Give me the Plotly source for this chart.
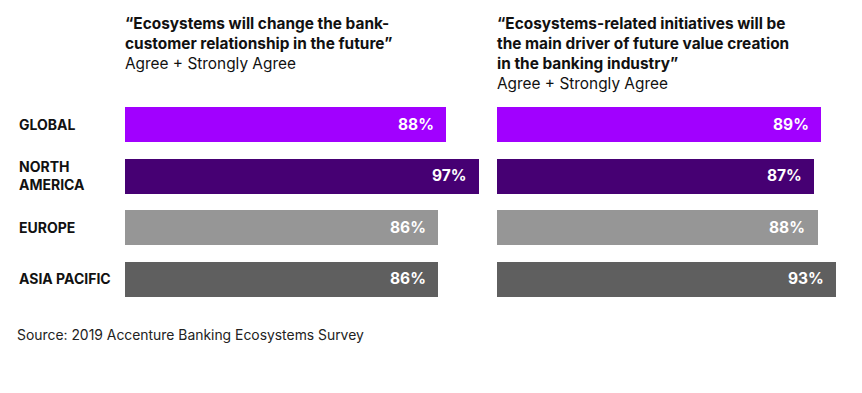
import plotly.graph_objects as go

# page has an 8px body margin; figure is sized to fit inside the 862x393 window
OFF = 8
W, H = 862 - 2 * OFF, 393 - 2 * OFF

regions = ["GLOBAL", "NORTH<br>AMERICA", "EUROPE", "ASIA PACIFIC"]
change_relationship = [88, 97, 86, 86]
value_creation = [89, 87, 88, 93]
colors = ["#A100FF", "#460073", "#969696", "#5F5F5F"]

left_title = "<b>“Ecosystems will change the bank-<br>customer relationship in the future”</b><br>Agree + Strongly Agree"
right_title = "<b>“Ecosystems-related initiatives will be<br>the main driver of future value creation<br>in the banking industry”</b><br>Agree + Strongly Agree"
source = "Source: 2019 Accenture Banking Ecosystems Survey"

FONT = "Inter"
ypos = list(range(len(regions)))
SCALE = 3.645  # px per percent


def px(xp):
    return (xp - OFF) / W


def py(yp):
    return 1 - (yp - OFF) / H


fig = go.Figure()
fig.add_trace(go.Bar(x=change_relationship, y=ypos, orientation="h",
                     marker=dict(color=colors, line=dict(width=0)),
                     width=0.68, xaxis="x", yaxis="y", hoverinfo="skip"))
fig.add_trace(go.Bar(x=value_creation, y=ypos, orientation="h",
                     marker=dict(color=colors, line=dict(width=0)),
                     width=0.68, xaxis="x2", yaxis="y2", hoverinfo="skip"))

ann = []
for i, v in enumerate(change_relationship):
    ann.append(dict(x=v, y=i, xref="x", yref="y", text=f"<b>{v}%</b>", showarrow=False,
                    xanchor="right", xshift=-10, font=dict(family=FONT, size=15.5, color="white")))
for i, v in enumerate(value_creation):
    ann.append(dict(x=v, y=i, xref="x2", yref="y2", text=f"<b>{v}%</b>", showarrow=False,
                    xanchor="right", xshift=-10, font=dict(family=FONT, size=15.5, color="white")))
for i, r in enumerate(regions):
    ann.append(dict(x=px(17), y=i, xref="paper", yref="y", text=f"<b>{r}</b>", showarrow=False,
                    xanchor="left", align="left", font=dict(family=FONT, size=14, color="#111111")))
ann.append(dict(x=px(123), y=py(12), xref="paper", yref="paper", text=left_title,
                showarrow=False, xanchor="left", yanchor="top", align="left",
                font=dict(family=FONT, size=15.4, color="#111111")))
ann.append(dict(x=px(495), y=py(12), xref="paper", yref="paper", text=right_title,
                showarrow=False, xanchor="left", yanchor="top", align="left",
                font=dict(family=FONT, size=15.4, color="#111111")))
ann.append(dict(x=px(15), y=py(335), xref="paper", yref="paper", text=source,
                showarrow=False, xanchor="left", yanchor="middle", align="left",
                font=dict(family=FONT, size=13.9, color="#222222")))

ydom = [py(304.5), py(98.5)]
fig.update_layout(
    width=W, height=H, margin=dict(l=0, r=0, t=0, b=0),
    paper_bgcolor="white", plot_bgcolor="white", showlegend=False,
    bargap=0,
    xaxis=dict(domain=[px(125), px(125 + 100 * SCALE)], range=[0, 100], visible=False),
    xaxis2=dict(domain=[px(496.7), px(496.7 + 98 * SCALE)], range=[0, 98], visible=False),
    yaxis=dict(domain=ydom, range=[3.5, -0.5], visible=False),
    yaxis2=dict(domain=ydom, range=[3.5, -0.5], visible=False, anchor="x2"),
    annotations=ann,
)
fig.write_html("out.html")
